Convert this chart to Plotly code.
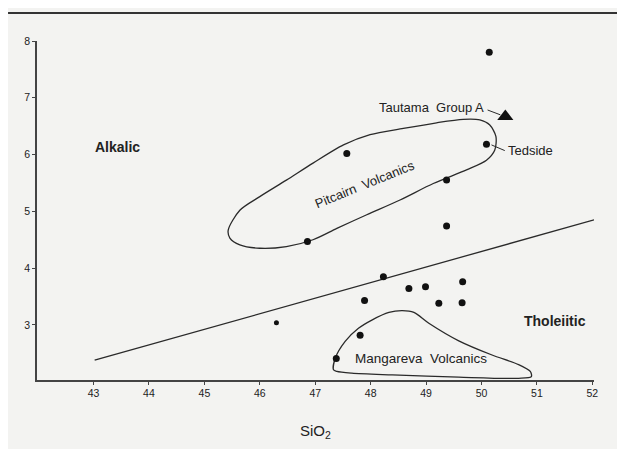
import plotly.graph_objects as go

# ---- data ----
dots_x = [50.14, 50.09, 47.57, 49.37, 49.37, 46.86, 48.23, 48.69, 48.99, 49.66,
          47.89, 49.23, 49.65, 47.81, 47.38]
dots_y = [7.80, 6.18, 6.02, 5.55, 4.74, 4.47, 3.85, 3.64, 3.67, 3.76,
          3.43, 3.38, 3.39, 2.82, 2.41]
small_dot_x = [46.30]
small_dot_y = [3.04]
tautama_x = [50.43]
tautama_y = [6.67]

divide_x = [43.02, 52.03]
divide_y = [2.38, 4.85]

pitcairn_x = [45.43, 45.64, 46.00, 46.48, 46.96, 47.51, 47.99, 48.59, 49.19, 49.67,
              49.97, 50.15, 50.26, 50.24, 50.09, 49.73, 49.13, 48.53, 47.93, 47.39,
              46.96, 46.48, 46.00, 45.64, 45.46, 45.43]
pitcairn_y = [4.67, 5.02, 5.26, 5.55, 5.85, 6.17, 6.35, 6.46, 6.56, 6.62,
              6.61, 6.52, 6.32, 6.08, 5.90, 5.73, 5.49, 5.20, 4.94, 4.70,
              4.50, 4.38, 4.35, 4.41, 4.53, 4.67]

mangareva_x = [47.33, 47.36, 47.54, 47.78, 48.03, 48.33, 48.57, 48.78, 49.05, 49.59,
               50.19, 50.67, 50.88, 50.90, 50.67, 49.59, 48.39, 47.66, 47.39, 47.33]
mangareva_y = [2.21, 2.41, 2.71, 2.94, 3.09, 3.22, 3.25, 3.22, 3.03, 2.72,
               2.47, 2.30, 2.18, 2.09, 2.06, 2.08, 2.12, 2.15, 2.18, 2.21]

tautama_leader_x = [50.11, 50.34]
tautama_leader_y = [6.785, 6.70]
tedside_leader_x = [50.18, 50.42]
tedside_leader_y = [6.17, 6.07]

x_ticks = [43, 44, 45, 46, 47, 48, 49, 50, 51, 52]
y_ticks = [3, 4, 5, 6, 7, 8]

INK = "#2a2a2a"
BG = "#f3f3f1"
FONT = "Liberation Sans, Arial, sans-serif"

fig = go.Figure()

line_style = dict(color=INK, width=1.3)
fig.add_trace(go.Scatter(x=divide_x, y=divide_y, mode="lines", line=line_style,
                         hoverinfo="skip"))
fig.add_trace(go.Scatter(x=pitcairn_x, y=pitcairn_y, mode="lines",
                         line=dict(color=INK, width=1.3, shape="spline", smoothing=0.8),
                         hoverinfo="skip"))
fig.add_trace(go.Scatter(x=mangareva_x, y=mangareva_y, mode="lines",
                         line=dict(color=INK, width=1.3, shape="spline", smoothing=0.8),
                         hoverinfo="skip"))
fig.add_trace(go.Scatter(x=tautama_leader_x, y=tautama_leader_y, mode="lines",
                         line=dict(color=INK, width=1), hoverinfo="skip"))
fig.add_trace(go.Scatter(x=tedside_leader_x, y=tedside_leader_y, mode="lines",
                         line=dict(color=INK, width=1), hoverinfo="skip"))

fig.add_trace(go.Scatter(x=dots_x, y=dots_y, mode="markers",
                         marker=dict(color="#111", size=7), cliponaxis=False))
fig.add_trace(go.Scatter(x=small_dot_x, y=small_dot_y, mode="markers",
                         marker=dict(color="#111", size=5)))
fig.add_trace(go.Scatter(x=tautama_x, y=tautama_y, mode="markers",
                         marker=dict(color="#111", size=14, symbol="triangle-up")))

ann_font = dict(family=FONT, color="#222")
annotations = [
    dict(x=43.44, y=6.125, text="<b>Alkalic</b>", font=dict(size=14, **ann_font)),
    dict(x=51.32, y=3.07, text="<b>Tholeiitic</b>", font=dict(size=14, **ann_font)),
    dict(x=50.09, y=6.83, text="Tautama  Group A", xanchor="right",
         font=dict(size=13, **ann_font)),
    dict(x=50.45, y=6.07, text="Tedside", xanchor="left",
         font=dict(size=13, **ann_font)),
    dict(x=48.915, y=2.40, text="Mangareva  Volcanics",
         font=dict(size=13.5, **ann_font)),
    dict(x=47.89, y=5.465, text="Pitcairn  Volcanics", textangle=-22,
         font=dict(size=13, **ann_font)),
]
for a in annotations:
    a.setdefault("xanchor", "center")
    a.update(xref="x", yref="y", showarrow=False, yanchor="middle")

annotations.append(dict(xref="paper", yref="paper", x=0.5, y=-0.153,
                        text="SiO<sub>2</sub>", showarrow=False,
                        xanchor="center", yanchor="middle",
                        font=dict(size=15, family=FONT, color="#222")))

# page has an 8px body margin: the figure is shifted so the plot lands where the reference has it
fig.update_layout(
    width=617, height=441,
    margin=dict(l=29, r=31, t=33, b=69),
    paper_bgcolor=BG, plot_bgcolor=BG,
    showlegend=False,
    annotations=annotations,
    shapes=[dict(type="line", xref="paper", yref="paper",
                 x0=-0.052, x1=1.06, y0=1.0826, y1=1.0826,
                 line=dict(color="#333", width=2))],
    font=dict(family=FONT),
)
axis_common = dict(showgrid=False, zeroline=False, showline=True,
                   linecolor="#444", linewidth=1.5, ticks="outside",
                   ticklen=3, tickwidth=1.3, tickcolor="#444",
                   tickfont=dict(size=10.5, color="#222", family=FONT))
fig.update_xaxes(range=[41.98, 52.03], tickvals=x_ticks, **axis_common)
fig.update_yaxes(range=[2.03, 8.0], tickvals=y_ticks, **axis_common)

fig.write_html("out.html")
